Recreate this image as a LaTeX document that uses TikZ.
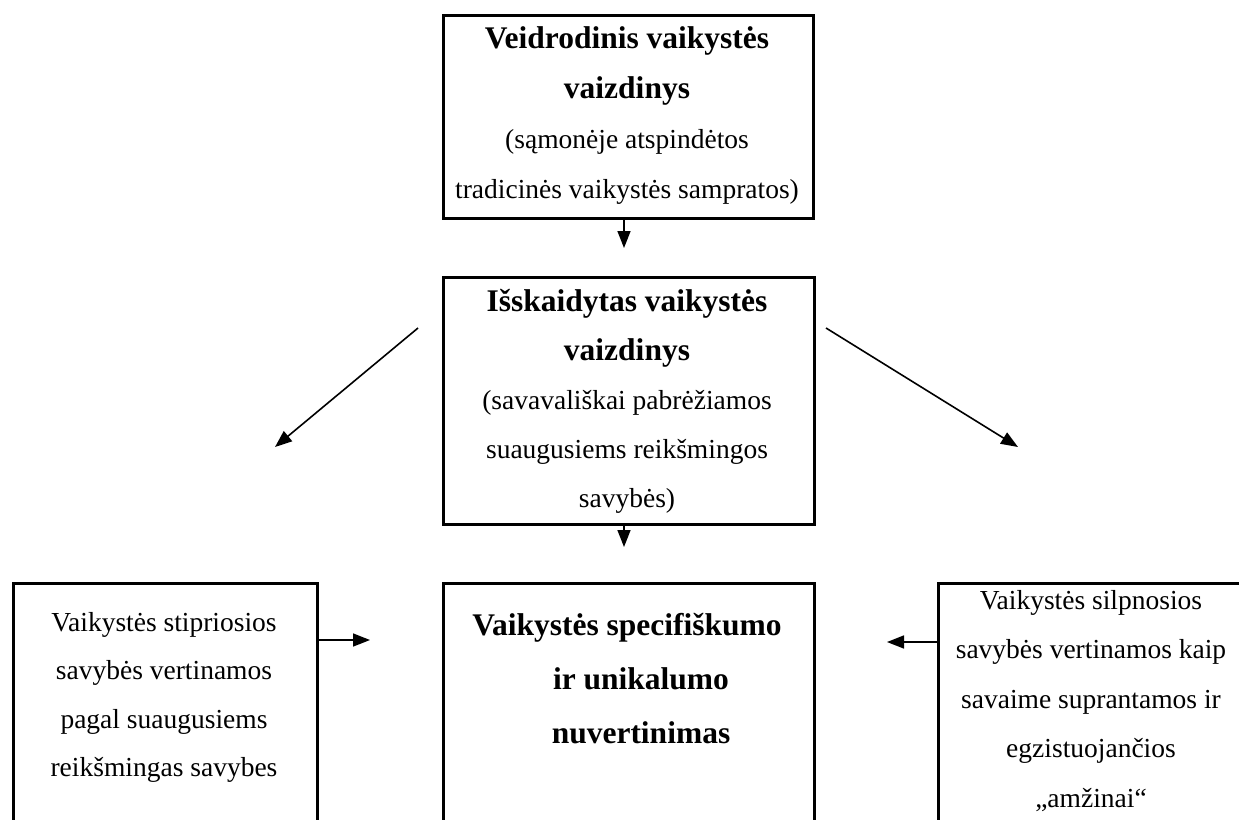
\documentclass[tikz,border=0pt]{standalone}
\usepackage{fontspec}
\setmainfont{Liberation Serif}
\usetikzlibrary{arrows.meta}
\begin{document}
\begin{tikzpicture}[x=1pt,y=-1pt,
  box/.style={draw, line width=2.5pt, inner sep=0pt, anchor=north west},
  txt/.style={align=center, inner sep=0pt, anchor=north},
  arr/.style={line width=1.6pt, -{Triangle[length=17pt,width=13pt]}},
  regf/.style={font=\fontsize{27.5}{50}\selectfont},
  regg/.style={font=\fontsize{27.5}{48.5}\selectfont},
  boldf/.style={font=\fontsize{31.5}{54}\selectfont\bfseries}
]
\clip (0,0) rectangle (1239,819);
% boxes
\node[box, minimum width=370pt, minimum height=203pt] (topbox) at (442,14) {};
\node[box, minimum width=371pt, minimum height=247pt] (midbox) at (442,276) {};
\node[box, minimum width=304pt, minimum height=270pt] (lbox) at (12,582) {};
\node[box, minimum width=371pt, minimum height=270pt] (cbox) at (442,582) {};
\node[box, minimum width=310pt, minimum height=270pt] (rbox) at (937,582) {};
% texts
\node[txt, regf] (toptext) at (627,26)
  {{\bfseries\fontsize{31.5}{50}\selectfont Veidrodinis vaikystės}\\
   {\bfseries\fontsize{31.5}{50}\selectfont vaizdinys}\\
   (sąmonėje atspindėtos\\
   tradicinės vaikystės sampratos)};
\node[txt, font=\fontsize{27.5}{49}\selectfont] (midtext) at (627,289)
  {{\bfseries\fontsize{31.5}{49}\selectfont Išskaidytas vaikystės}\\
   {\bfseries\fontsize{31.5}{49}\selectfont vaizdinys}\\
   (savavališkai pabrėžiamos\\
   suaugusiems reikšmingos\\
   savybės)};
\node[txt, regg] (ltext) at (164,612)
  {Vaikystės stipriosios\\
   savybės vertinamos\\
   pagal suaugusiems\\
   reikšmingas savybes};
\node[txt, boldf] (ctext) at (627,613)
  {Vaikystės specifiškumo\\
   \hspace*{28pt}ir unikalumo\\
   \hspace*{28pt}nuvertinimas};
\node[txt, font=\fontsize{27.5}{49.5}\selectfont] (rtext) at (1091,590)
  {Vaikystės silpnosios\\
   savybės vertinamos kaip\\
   savaime suprantamos ir\\
   egzistuojančios\\
   „amžinai“};
% connectors
\coordinate (a1) at (624,248);
\coordinate (a2) at (624,547);
\coordinate (dl0) at (418,328);
\coordinate (dl1) at (275,447);
\coordinate (dr0) at (826,328);
\coordinate (dr1) at (1018,447);
\coordinate (h1) at (370,640);
\coordinate (h2) at (887,642);
\draw[arr] (topbox.south -| a1) -- (a1);
\draw[arr] (midbox.south -| a2) -- (a2);
\draw[arr] (dl0) -- (dl1);
\draw[arr] (dr0) -- (dr1);
\draw[arr] (lbox.east |- h1) -- (h1);
\draw[arr] (rbox.west |- h2) -- (h2);
\end{tikzpicture}
\end{document}
